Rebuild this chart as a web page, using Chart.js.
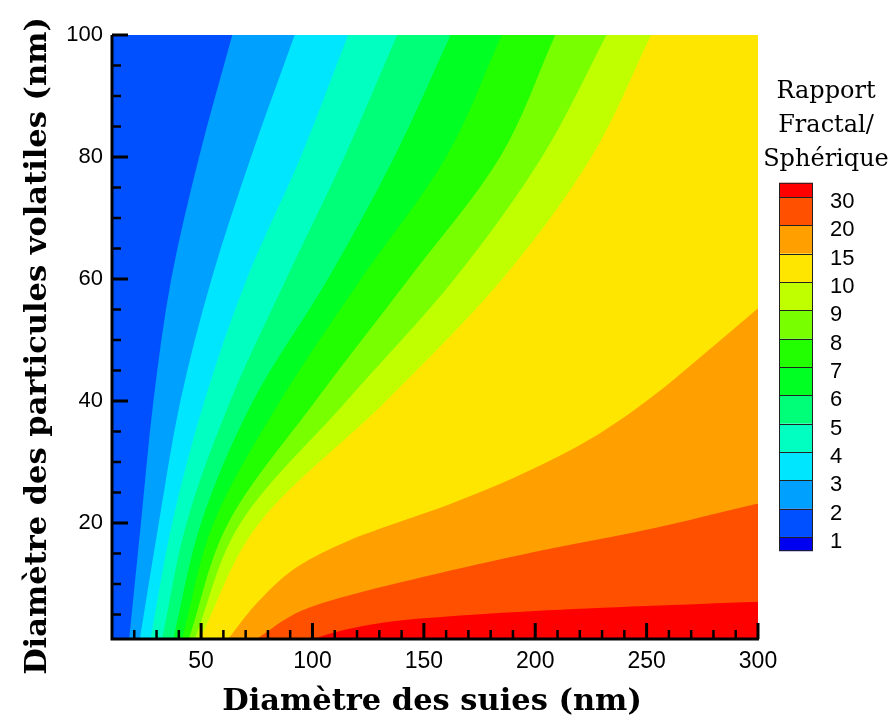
<!DOCTYPE html>
<html><head><meta charset="utf-8">
<script src="https://cdn.jsdelivr.net/npm/chart.js@4/dist/chart.umd.min.js"></script>
<style>html,body{margin:0;padding:0;background:#fff;}#wrap{width:890px;height:718px;position:relative;}</style>
</head><body><div id="wrap"><canvas id="c" width="890" height="718"></canvas></div>
<script>
// ---------------- data ----------------
const levels      = [1, 2, 3, 4, 5, 6, 7, 8, 9, 10, 15, 20, 30];
const levelLabels = ['1','2','3','4','5','6','7','8','9','10','15','20','30'];
// band colours: below 1, 1-2, 2-3, ... , 20-30, above 30
const bandColors  = ['#0000F0','#0050FF','#00A0FF','#00E6FF','#00FFC0','#00FF78','#00FF22','#22FF00','#78FF00','#C0FF00','#FFE600','#FFA000','#FF5000','#FF0000'];

// steep contours (levels 2..10): x read at these y values
const ySteep   = [1, 20, 40, 60, 80, 100];
const xLevel2  = [17.7, 23.0, 28.6, 36.6, 49.1, 64];
const xLevel3  = [22.5, 31.0, 40.7, 54.7, 72.4, 92];
const xLevel4  = [27.3, 37.0, 51.5, 70.5, 94.7, 116];
const xLevel5  = [32.5, 43.5, 63.1, 88.2, 114.3, 138];
const xLevel6  = [37.5, 50.0, 73.3, 106.9, 136.7, 162];
const xLevel7  = [41.5, 55.6, 85.5, 121.8, 160.0, 185];
const xLevel8  = [44.5, 62.2, 101.3, 143.2, 184.2, 209];
const xLevel9  = [47.2, 67.7, 115.3, 163.7, 203.0, 232];
const xLevel10 = [49.4, 76.1, 133.0, 185.2, 225.2, 252];

// flat contours (levels 15, 20, 30)
const xLevel15 = [62.1, 76.3, 94.3, 116.7, 139.2, 161.6, 184, 206.5, 228.9, 251.4, 273.8, 300];
const yLevel15 = [1, 7.4, 13.1, 17.2, 20.2, 23.1, 26.4, 30.2, 34.7, 40.4, 47.1, 55.2];
const xLevel20 = [74.9, 95.5, 109, 150, 200, 250, 300];
const yLevel20 = [1, 5.7, 7.4, 11.2, 15.3, 18.9, 23.2];
const xLevel30 = [100.5, 109, 130, 150, 200, 250, 300];
const yLevel30 = [1, 2.0, 3.6, 4.4, 5.6, 6.4, 7.1];

// axes
const xMin = 10, xMax = 300, yMin = 1, yMax = 100;
const xTicks = [50, 100, 150, 200, 250, 300];
const yTicks = [20, 40, 60, 80, 100];
const xMinorTicks = [20,30,40,60,70,80,90,110,120,130,140,160,170,180,190,210,220,230,240,260,270,280,290];
const yMinorTicks = [5,10,15,25,30,35,45,50,55,65,70,75,85,90,95];

const xTitle = 'Diamètre des suies (nm)';
const yTitle = 'Diamètre des particules volatiles (nm)';
const legendTitle = ['Rapport', 'Fractal/', 'Sphérique'];

// ---------------- build datasets ----------------
const steep = [xLevel2, xLevel3, xLevel4, xLevel5, xLevel6, xLevel7, xLevel8, xLevel9, xLevel10];
const contours = [];
steep.forEach((xs, i) => {
  contours.push({ level: levels[i + 1], pts: ySteep.map((y, j) => ({ x: xs[j], y })) });
});
contours.push({ level: 15, pts: xLevel15.map((x, j) => ({ x, y: yLevel15[j] })) });
contours.push({ level: 20, pts: xLevel20.map((x, j) => ({ x, y: yLevel20[j] })) });
contours.push({ level: 30, pts: xLevel30.map((x, j) => ({ x, y: yLevel30[j] })) });

const datasets = contours.map((c, k) => {
  const li = levels.indexOf(c.level);
  return {
    label: 'level ' + c.level,
    data: c.pts,
    backgroundColor: bandColors[li + 1],
    borderColor: bandColors[li + 1],
    borderWidth: 0,
    pointRadius: 0,
    cubicInterpolationMode: 'monotone',
    fill: { value: xMax },
    order: 100 - k
  };
});

// ---------------- plugins ----------------
const bgPlugin = {
  id: 'bg',
  beforeDatasetsDraw(chart) {
    const { ctx, chartArea: a } = chart;
    ctx.save();
    ctx.fillStyle = bandColors[1];
    ctx.fillRect(a.left, a.top, a.right - a.left, a.bottom - a.top);
    ctx.restore();
  }
};

const decoPlugin = {
  id: 'deco',
  afterDraw(chart) {
    const { ctx, chartArea: a } = chart;
    const xs = chart.scales.x, ys = chart.scales.y;
    ctx.save();
    ctx.strokeStyle = '#000';
    ctx.lineCap = 'butt';
    // axis lines
    ctx.lineWidth = 3;
    ctx.beginPath();
    ctx.moveTo(a.left, a.top); ctx.lineTo(a.left, a.bottom + 1.5);
    ctx.moveTo(a.left - 1.5, a.bottom); ctx.lineTo(a.right + 1, a.bottom);
    ctx.stroke();
    // ticks (inward)
    const tick = (vals, len, w) => {
      ctx.lineWidth = w;
      ctx.beginPath();
      vals.x.forEach(v => { const p = xs.getPixelForValue(v); ctx.moveTo(p, a.bottom); ctx.lineTo(p, a.bottom - len); });
      vals.y.forEach(v => { const p = ys.getPixelForValue(v); ctx.moveTo(a.left, p); ctx.lineTo(a.left + len, p); });
      ctx.stroke();
    };
    tick({ x: xTicks, y: yTicks }, 16, 3);
    tick({ x: xMinorTicks, y: yMinorTicks }, 9, 2.5);

    // axis titles
    ctx.fillStyle = '#000';
    ctx.font = 'bold 30.5px "DejaVu Serif"';
    ctx.textAlign = 'center';
    ctx.textBaseline = 'alphabetic';
    ctx.fillText(xTitle, 432, 710);
    ctx.save();
    ctx.translate(46, 346);
    ctx.rotate(-Math.PI / 2);
    ctx.fillText(yTitle, 0, 0);
    ctx.restore();

    // colour bar legend
    ctx.font = '24px "DejaVu Serif"';
    ctx.textBaseline = 'middle';
    legendTitle.forEach((t, i) => ctx.fillText(t, 826, 92 + i * 34));

    const barL = 779, barW = 34, topB = 197, step = 28.33;
    const n = levels.length; // boundaries
    for (let b = 0; b <= n; b++) {
      const colorIdx = n - b;
      const y0 = b === 0 ? topB - step / 2 : topB + (b - 1) * step;
      const y1 = b === n ? topB + (n - 1) * step + step / 2 : topB + b * step;
      ctx.fillStyle = bandColors[colorIdx];
      ctx.fillRect(barL, y0, barW, y1 - y0);
    }
    ctx.strokeStyle = '#222';
    ctx.lineWidth = 1;
    ctx.strokeRect(barL + 0.5, topB - step / 2 + 0.5, barW - 1, (n - 1) * step + step - 1);
    ctx.beginPath();
    for (let b = 0; b < n; b++) {
      const y = Math.round(topB + b * step) + 0.5;
      ctx.moveTo(barL, y); ctx.lineTo(barL + barW, y);
    }
    ctx.stroke();
    ctx.fillStyle = '#000';
    ctx.textAlign = 'left';
    ctx.font = '22px "Liberation Sans", Arial, sans-serif';
    for (let b = 0; b < n; b++) {
      ctx.fillText(levelLabels[n - 1 - b], 830, topB + b * step + 5);
    }
    ctx.restore();
  }
};

// ---------------- chart ----------------
new Chart(document.getElementById('c'), {
  type: 'line',
  data: { datasets },
  options: {
    responsive: false,
    animation: false,
    indexAxis: 'y',
    layout: { padding: { top: 35, right: 132, left: 0, bottom: 0 } },
    plugins: { legend: { display: false }, tooltip: { enabled: false } },
    scales: {
      x: {
        type: 'linear', position: 'bottom', min: xMin, max: xMax,
        afterBuildTicks: s => { s.ticks = xTicks.map(v => ({ value: v })); },
        afterFit: s => { s.height = 79; },
        grid: { display: false, drawTicks: false },
        border: { display: false },
        ticks: { color: '#000', padding: 9, maxRotation: 0, autoSkip: false,
                 font: { family: '"Liberation Sans", Arial, sans-serif', size: 23 } }
      },
      y: {
        type: 'linear', position: 'left', min: yMin, max: yMax,
        afterBuildTicks: s => { s.ticks = yTicks.map(v => ({ value: v })); },
        afterFit: s => { s.width = 112; },
        grid: { display: false, drawTicks: false },
        border: { display: false },
        ticks: { color: '#000', padding: 9, autoSkip: false,
                 font: { family: '"Liberation Sans", Arial, sans-serif', size: 22 } }
      }
    }
  },
  plugins: [bgPlugin, decoPlugin]
});
</script></body></html>
